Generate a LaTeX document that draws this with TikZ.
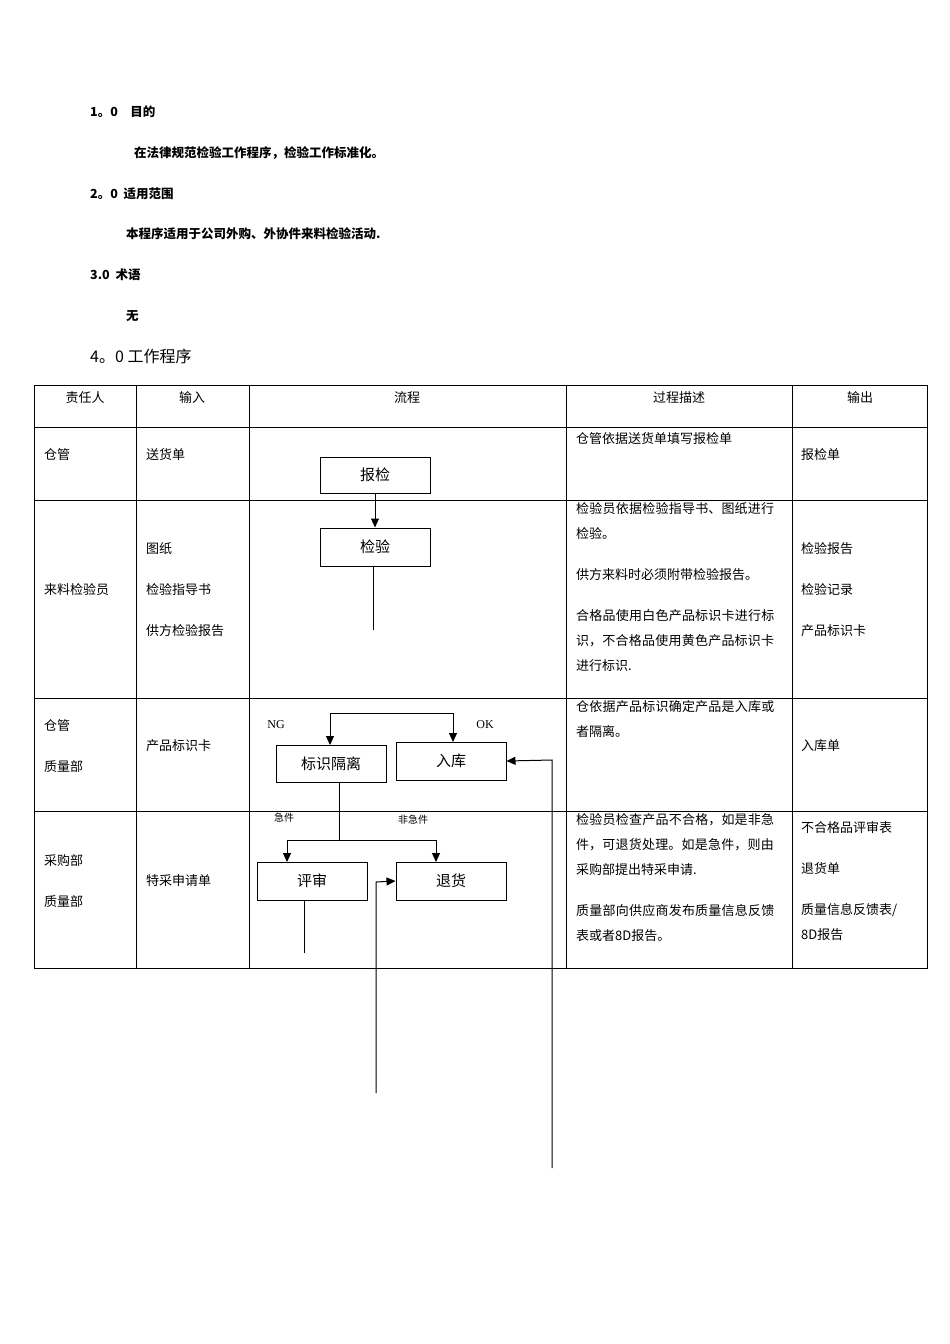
\documentclass[tikz,border=0pt]{standalone}
\usepackage{fontspec}
\setmainfont{Liberation Serif}
\newfontfamily\cjk{Noto Sans CJK SC}
\XeTeXlinebreaklocale "zh"
\XeTeXlinebreakskip=0pt plus 1pt
\usetikzlibrary{arrows.meta}
\begin{document}
\begin{tikzpicture}[x=1pt,y=-1pt,
  t/.style={font=\cjk\fontsize{13}{16}\selectfont,anchor=west,inner sep=0},
  b/.style={font=\cjk\bfseries\fontsize{12.5}{15}\selectfont,anchor=west,inner sep=0},
  c/.style={font=\cjk\fontsize{13}{16}\selectfont,inner sep=0},
  d/.style={font=\cjk\fontsize{13}{25}\selectfont,align=left,text width=204pt,anchor=north west,inner sep=0},
  box/.style={draw,line width=1pt,font=\cjk\fontsize{15}{18}\selectfont},
  sm/.style={font=\cjk\fontsize{10}{12}\selectfont,inner sep=0},
  ar/.style={-{Triangle[length=9pt,width=8pt]},line width=1pt},
  ln/.style={line width=1pt}]
\useasboundingbox (0,0) rectangle (950,1344);
\fill[white] (0,0) rectangle (950,1344);
\node[b] (h1) at (90,112) {1。0\quad 目的};
\node[b] (p1) at (134,153) {在法律规范检验工作程序，检验工作标准化。};
\node[b] (h2) at (90,194) {2。0\ \ 适用范围};
\node[b] (p2) at (126,234) {本程序适用于公司外购、外协件来料检验活动.};
\node[b] (h3) at (90,275) {3.0\ \ 术语};
\node[b] (p3) at (126,316) {无};
\node[anchor=west,inner sep=0,font=\cjk\fontsize{16}{19}\selectfont] (h4) at (90,356) {4。0 工作程序};
% table
\draw[line width=0.6pt] (34,385) rectangle (927,968);
\foreach \y in {427,500,698,811} \draw[line width=0.6pt] (34,\y) -- (927,\y);
\foreach \x in {136,249,566,792} \draw[line width=0.6pt] (\x,385) -- (\x,968);
\node[c] (c1) at (85,398) {责任人};
\node[c] (c2) at (192,398) {输入};
\node[c] (c3) at (407,398) {流程};
\node[c] (c4) at (679,398) {过程描述};
\node[c] (c5) at (860,398) {输出};
% row1
\node[t] (r1a) at (44,455) {仓管};
\node[t] (r1b) at (146,455) {送货单};
\node[t] (r1d) at (576,439) {仓管依据送货单填写报检单};
\node[t] (r1e) at (801,455) {报检单};
% row2
\node[t] (r2a) at (44,590) {来料检验员};
\node[t] (r2b1) at (146,549) {图纸};
\node[t] (r2b2) at (146,590) {检验指导书};
\node[t] (r2b3) at (146,631) {供方检验报告};
\node[d] (r2d) at (576,502) {检验员依据检验指导书、图纸进行检验。\par\vspace{16pt}供方来料时必须附带检验报告。\par\vspace{16pt}合格品使用白色产品标识卡进行标识，不合格品使用黄色产品标识卡进行标识.};
\node[t] (r2e1) at (801,549) {检验报告};
\node[t] (r2e2) at (801,590) {检验记录};
\node[t] (r2e3) at (801,631) {产品标识卡};
% row3
\node[t] (r3a1) at (44,726) {仓管};
\node[t] (r3a2) at (44,767) {质量部};
\node[t] (r3b) at (146,746) {产品标识卡};
\node[d] (r3d) at (576,700) {仓依据产品标识确定产品是入库或者隔离。};
\node[t] (r3e) at (801,746) {入库单};
% row4
\node[t] (r4a1) at (44,861) {采购部};
\node[t] (r4a2) at (44,902) {质量部};
\node[t] (r4b) at (146,881) {特采申请单};
\node[d] (r4d) at (576,813) {检验员检查产品不合格，如是非急件，可退货处理。如是急件，则由采购部提出特采申请.\par\vspace{16pt}质量部向供应商发布质量信息反馈表或者8D报告。};
\node[t] (r4e1) at (801,828) {不合格品评审表};
\node[t] (r4e2) at (801,869) {退货单};
\node[t] (r4e3) at (801,910) {质量信息反馈表/};
\node[t] (r4e4) at (801,935) {8D报告};
% flow
\node[box,minimum width=110pt,minimum height=36pt] (bj) at (375,475) {报检};
\node[box,minimum width=110pt,minimum height=38pt] (jy) at (375,547) {检验};
\node[box,minimum width=110pt,minimum height=37pt] (gl) at (331,763.5) {标识隔离};
\node[box,minimum width=110pt,minimum height=38pt] (rk) at (451,761) {入库};
\node[box,minimum width=110pt,minimum height=38pt] (ps) at (312,881) {评审};
\node[box,minimum width=110pt,minimum height=38pt] (th) at (451,881) {退货};
\node[font=\fontsize{12}{14}\selectfont,inner sep=0] (ng) at (276,725) {NG};
\node[font=\fontsize{12}{14}\selectfont,inner sep=0] (ok) at (485,725) {OK};
\node[sm] (jj) at (284,818) {急件};
\node[sm] (fjj) at (413,820) {非急件};
\coordinate (e1) at (373,630);
\coordinate (e2) at (304,953);
\coordinate (e3) at (376,1093);
\coordinate (e4) at (552,1168);
\coordinate (sp) at (339,840);
\draw[ar] (bj) -- (jy);
\draw[ln] (jy.south -| e1) -- (e1);
\draw[ar] (330,713) -- (453,713) -- (453,742);
\draw[ar] (330,713) -- (330,745);
\draw[ln] (gl.south -| sp) -- (sp);
\draw[ar] (sp) -- (287,840) -- (287,862);
\draw[ar] (sp) -- (436,840) -- (436,862);
\draw[ln] (ps.south -| e2) -- (e2);
\draw[ar] (e3) -- (376,882) -- (th.west);
\draw[ar] (e4) -- (552,760) -- (rk.east);
\end{tikzpicture}
\end{document}
